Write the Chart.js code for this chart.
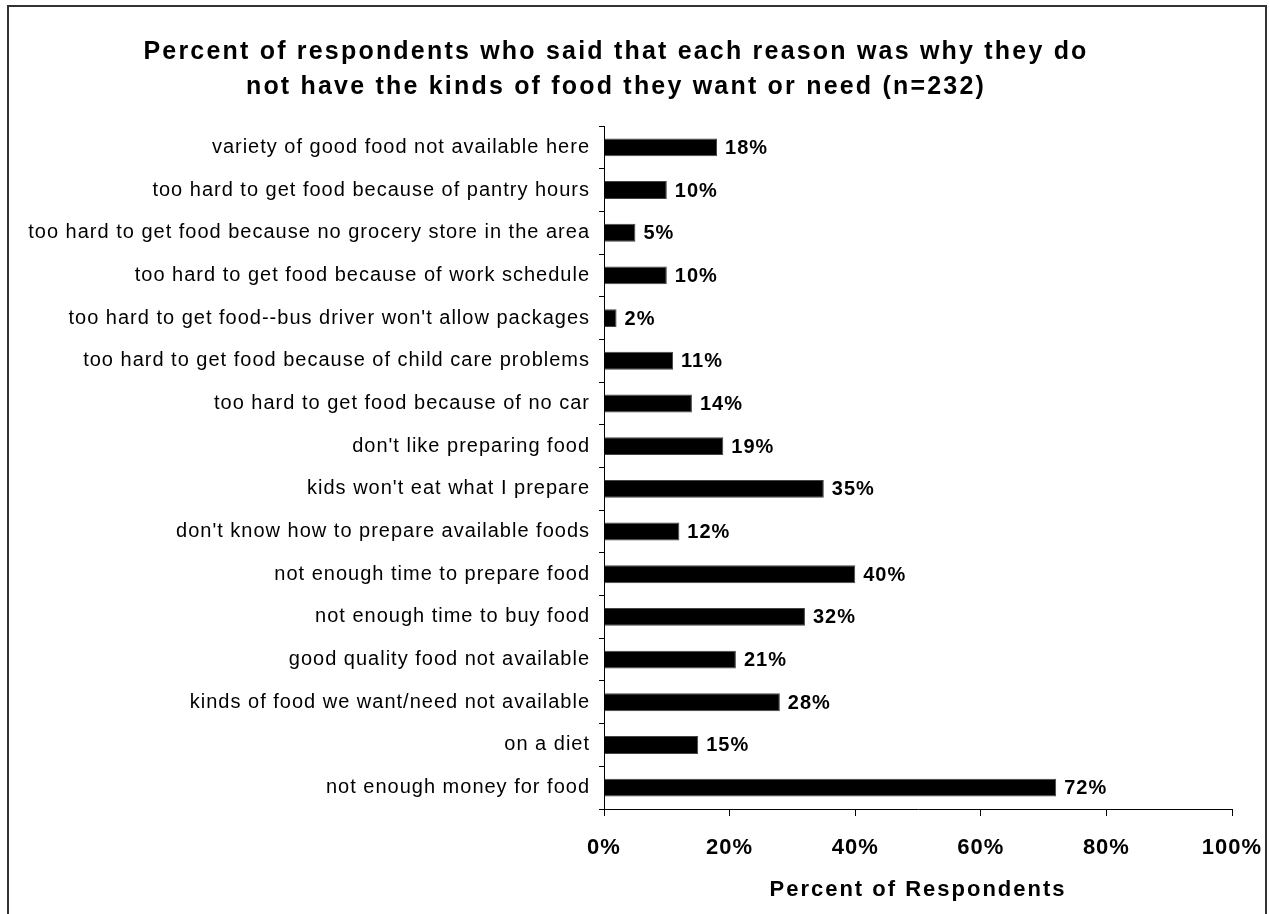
<!DOCTYPE html>
<html lang="en">
<head>
<meta charset="UTF-8">
<title>Reasons for not having wanted food</title>
<script src="https://cdn.jsdelivr.net/npm/chart.js"></script>
<style>
  body { margin: 0; background: #fff; }
  canvas { display: block; }
</style>
</head>
<body>
<canvas id="chart" width="1270" height="914"></canvas>
<script>
// reasons, listed top to bottom
var reasons = [
  "variety of good food not available here",
  "too hard to get food because of pantry hours",
  "too hard to get food because no grocery store in the area",
  "too hard to get food because of work schedule",
  "too hard to get food--bus driver won't allow packages",
  "too hard to get food because of child care problems",
  "too hard to get food because of no car",
  "don't like preparing food",
  "kids won't eat what I prepare",
  "don't know how to prepare available foods",
  "not enough time to prepare food",
  "not enough time to buy food",
  "good quality food not available",
  "kinds of food we want/need not available",
  "on a diet",
  "not enough money for food"
];
// percent of respondents for each reason
var percents = [18, 10, 5, 10, 2, 11, 14, 19, 35, 12, 40, 32, 21, 28, 15, 72];

var titleLines = [
  "Percent of respondents who said that each reason was why they do",
  "not have the kinds of food they want or need (n=232)"
];
var axisTitle = "Percent of Respondents";

var FONT = "'Liberation Sans', Arial, Helvetica, sans-serif";

// the old spreadsheet look: text is spaced out a little
var spacing = {
  id: "spacing",
  beforeUpdate: function (chart) { chart.ctx.letterSpacing = "1px"; },
  beforeDraw: function (chart) { chart.ctx.letterSpacing = "1px"; }
};

// white page and outer frame
var framePlugin = {
  id: "frame",
  beforeDraw: function (chart) {
    var c = chart.ctx;
    c.save();
    c.fillStyle = "#fff";
    c.fillRect(0, 0, chart.width, chart.height);
    c.strokeStyle = "#333";
    c.lineWidth = 2;
    c.strokeRect(8, 6, 1258, 1000);
    c.restore();
  }
};

// percentage written at the end of each bar
var valueLabels = {
  id: "valueLabels",
  afterDatasetsDraw: function (chart) {
    var c = chart.ctx;
    var meta = chart.getDatasetMeta(0);
    c.save();
    c.letterSpacing = "1px";
    c.font = "bold 20px " + FONT;
    c.fillStyle = "#000";
    c.textAlign = "left";
    c.textBaseline = "middle";
    meta.data.forEach(function (bar, i) {
      c.fillText(percents[i] + "%", bar.x + 8, bar.y + 1);
    });
    c.restore();
  }
};

// chart title and x axis title
var titles = {
  id: "titles",
  afterDraw: function (chart) {
    var c = chart.ctx;
    var area = chart.chartArea;
    c.save();
    c.fillStyle = "#000";
    c.textAlign = "center";
    c.textBaseline = "middle";
    c.letterSpacing = "2.2px";
    c.font = "bold 25px " + FONT;
    titleLines.forEach(function (line, i) {
      c.fillText(line, 616, 52 + i * 35);
    });
    c.letterSpacing = "2px";
    c.font = "bold 22px " + FONT;
    c.fillText(axisTitle, (area.left + area.right) / 2, 890);
    c.restore();
  }
};

var ctx = document.getElementById("chart").getContext("2d");
var chart = new Chart(ctx, {
  type: "bar",
  data: {
    labels: reasons,
    datasets: [{
      data: percents,
      backgroundColor: "#000",
      borderColor: "#444",
      borderWidth: 1,
      barPercentage: 0.42,
      categoryPercentage: 1
    }]
  },
  options: {
    indexAxis: "y",
    responsive: false,
    animation: false,
    layout: { padding: { top: 126, right: 38, bottom: 0, left: 0 } },
    plugins: {
      legend: { display: false },
      tooltip: { enabled: false },
      title: { display: false }
    },
    scales: {
      y: {
        afterFit: function (scale) { scale.width = 604; },
        grid: {
          drawOnChartArea: false,
          drawTicks: true,
          tickLength: 5,
          color: "#000",
          tickColor: "#000"
        },
        border: { color: "#000", width: 1 },
        ticks: {
          color: "#000",
          padding: 9,
          font: { family: FONT, size: 20 }
        }
      },
      x: {
        min: 0,
        max: 100,
        afterFit: function (scale) {
          scale.height = 105;
          scale.paddingLeft = 0;
          scale.paddingRight = 0;
        },
        grid: {
          drawOnChartArea: false,
          drawTicks: true,
          tickLength: 7,
          color: "#000",
          tickColor: "#000"
        },
        border: { color: "#000", width: 1 },
        ticks: {
          stepSize: 20,
          color: "#000",
          padding: 19,
          maxRotation: 0,
          font: { family: FONT, size: 22, weight: "bold" },
          callback: function (v) { return v + "%"; }
        }
      }
    }
  },
  plugins: [spacing, framePlugin, valueLabels, titles]
});
</script>
</body>
</html>
